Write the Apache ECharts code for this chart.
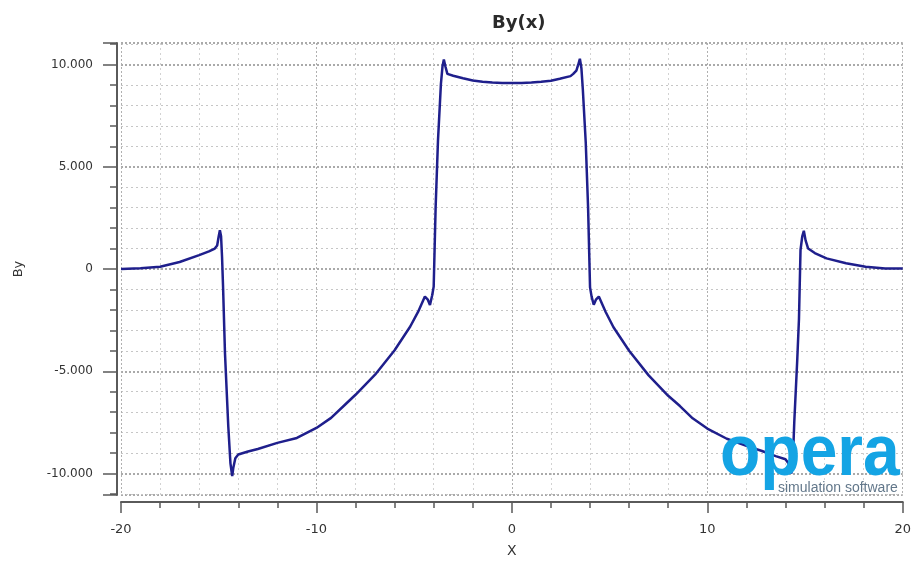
<!DOCTYPE html>
<html>
<head>
<meta charset="utf-8">
<script src="https://cdn.jsdelivr.net/npm/echarts@6/dist/echarts.min.js"></script>
<style>
  html, body { margin: 0; padding: 0; background: #ffffff; }
  #chart { width: 914px; height: 563px; }
</style>
</head>
<body>
<div id="chart"></div>
<script>
// By along x, left half of the profile (x < 0)
const xLeft = [-20, -19, -18, -17, -16, -15.5, -15.2, -15.08, -15.0, -14.94, -14.88, -14.83, -14.78,
  -14.68, -14.51, -14.4, -14.31, -14.25, -14.15, -14.0, -13.5, -13.0, -12.0, -11.0, -10.0, -9.25,
  -8.5, -8.0, -7.0, -6.0, -5.2, -4.8, -4.45, -4.3, -4.19, -4.08, -4.0, -3.9, -3.78, -3.63, -3.55,
  -3.48, -3.4, -3.3, -3.0, -2.5, -2.0, -1.5, -1.0, -0.5, 0];
const byLeft = [0, 0.04, 0.11, 0.34, 0.68, 0.86, 1.0, 1.15, 1.6, 1.9, 1.6, 0.6, -0.8,
  -4.1, -7.7, -9.5, -10.13, -9.7, -9.25, -9.07, -8.92, -8.8, -8.5, -8.26, -7.77, -7.28,
  -6.6, -6.15, -5.17, -3.97, -2.81, -2.1, -1.35, -1.5, -1.76, -1.3, -0.86, 3.04, 6.29, 9.05, 9.9,
  10.24, 9.9, 9.54, 9.45, 9.33, 9.22, 9.16, 9.12, 9.1, 9.1];

// By along x, right half of the profile (x > 0)
const xRight = [0.5, 1.0, 1.5, 2.0, 2.45, 3.0, 3.14, 3.3, 3.4, 3.48, 3.56, 3.63, 3.78, 3.9, 4.0,
  4.08, 4.19, 4.3, 4.45, 4.8, 5.2, 6.0, 7.0, 8.0, 8.6, 9.25, 10.0, 11.0, 12.0, 12.8, 13.5, 14.0,
  14.15, 14.3, 14.38, 14.45, 14.6, 14.69, 14.77, 14.86, 14.94, 15.03, 15.16, 15.5, 16.1, 17.1,
  18.1, 19.1, 20];
const byRight = [9.1, 9.12, 9.15, 9.2, 9.3, 9.43, 9.54, 9.7, 10.0, 10.28, 9.8, 8.8, 6.2, 3.0, -0.9,
  -1.35, -1.75, -1.5, -1.35, -2.1, -2.85, -4.0, -5.2, -6.2, -6.7, -7.3, -7.8, -8.3, -8.65, -8.9, -9.15, -9.3,
  -9.5, -10.0, -9.3, -7.5, -4.5, -2.46, 0.93, 1.6, 1.87, 1.4, 1.0, 0.78, 0.52, 0.28,
  0.11, 0.03, 0.02];

// Axis ranges
const xRange = [-20, 20];
const yRange = [-11.05, 11.05];

const points = [];
xLeft.forEach((x, i) => points.push([x, byLeft[i]]));
xRight.forEach((x, i) => points.push([x, byRight[i]]));

const axisColor = '#5a5a5a';
const labelFont = 'DejaVu Sans';

const chart = echarts.init(document.getElementById('chart'), null, { renderer: 'canvas' });
chart.setOption({
  animation: false,
  backgroundColor: '#ffffff',
  title: {
    text: 'By(x)',
    left: 487,
    top: 9,
    textStyle: { fontFamily: labelFont, fontWeight: 'bold', fontSize: 18, color: '#2a2a2a' }
  },
  grid: { left: 121, right: 11, top: 43, bottom: 67, containLabel: false },
  xAxis: {
    type: 'value',
    min: xRange[0],
    max: xRange[1],
    interval: 10,
    offset: 7,
    name: 'X',
    nameLocation: 'middle',
    nameGap: 42,
    nameTextStyle: { fontFamily: labelFont, fontSize: 14, color: '#333' },
    axisLine: { show: true, onZero: false, lineStyle: { color: axisColor, width: 2 } },
    axisTick: { show: true, length: 11, lineStyle: { color: axisColor, width: 1.5 } },
    minorTick: { show: true, splitNumber: 5, length: 6, lineStyle: { color: axisColor, width: 1.5 } },
    axisLabel: { margin: 21, fontFamily: labelFont, fontSize: 13, color: '#333' },
    splitLine: { show: true, lineStyle: { color: '#b0b0b0', type: [2, 2], width: 1 } },
    minorSplitLine: { show: true, lineStyle: { color: '#d2d2d2', type: [2, 3], width: 1 } }
  },
  yAxis: {
    type: 'value',
    min: yRange[0],
    max: yRange[1],
    splitNumber: 5,
    offset: 4,
    name: 'By',
    nameLocation: 'middle',
    nameRotate: 90,
    nameGap: 92,
    nameTextStyle: { fontFamily: labelFont, fontSize: 13, color: '#333' },
    axisLine: { show: true, onZero: false, lineStyle: { color: axisColor, width: 2 } },
    axisTick: { show: true, length: 14, lineStyle: { color: axisColor, width: 1.5 } },
    minorTick: { show: true, splitNumber: 5, length: 7, lineStyle: { color: axisColor, width: 1.5 } },
    axisLabel: {
      margin: 24,
      fontFamily: labelFont,
      fontSize: 12,
      color: '#333',
      showMinLabel: false,
      showMaxLabel: false,
      formatter: function (v) {
        if (Math.abs(v % 5) > 1e-6) return '';
        return v === 0 ? '0' : v.toFixed(3);
      }
    },
    splitLine: { show: true, lineStyle: { color: '#8f8f8f', type: [2, 2], width: 1.5 } },
    minorSplitLine: { show: true, lineStyle: { color: '#c6c6c6', type: [2, 3], width: 1 } }
  },
  series: [{
    type: 'line',
    data: points,
    showSymbol: false,
    smooth: false,
    clip: true,
    lineStyle: { color: '#1f1f8c', width: 2.5 },
    z: 3
  }],
  graphic: [
    {
      type: 'text',
      z: 100,
      x: 720,
      y: 455,
      scaleY: 1.1,
      style: {
        text: 'opera',
        fontFamily: 'Liberation Sans',
        fontWeight: 'bold',
        fontSize: 66,
        fill: '#14a4e4',
        align: 'left',
        verticalAlign: 'middle'
      }
    },
    {
      type: 'text',
      z: 100,
      x: 778,
      y: 488,
      style: {
        text: 'simulation software',
        fontFamily: 'Liberation Sans',
        fontSize: 14,
        fill: '#62778a',
        align: 'left',
        verticalAlign: 'middle'
      }
    }
  ]
});
</script>
</body>
</html>
